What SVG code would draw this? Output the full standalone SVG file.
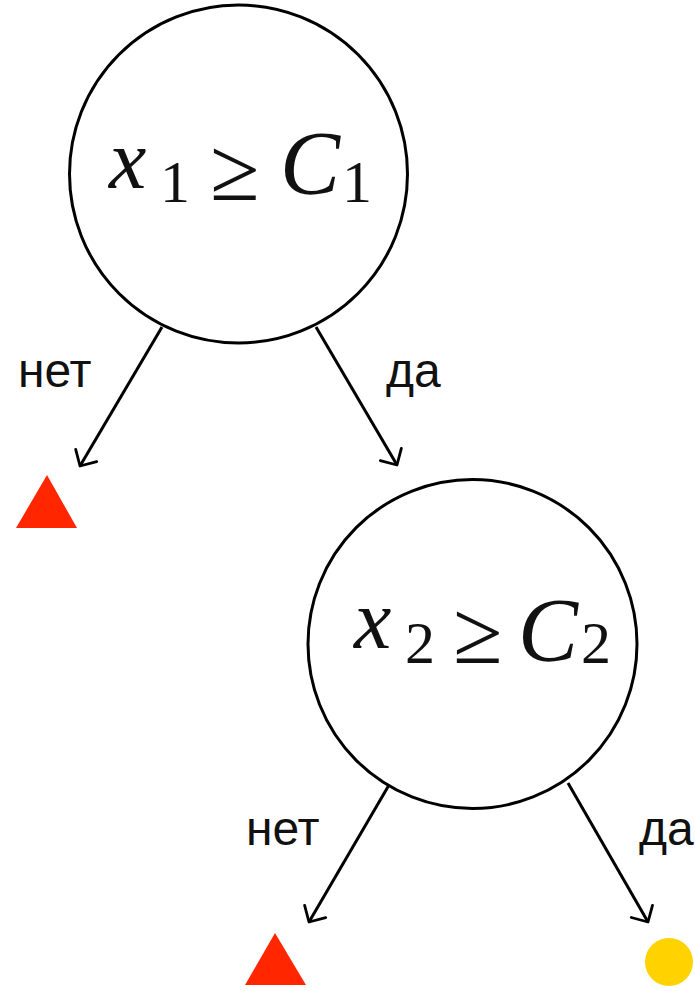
<svg xmlns="http://www.w3.org/2000/svg" width="695" height="991" viewBox="0 0 695 991">
<defs>
<style>
.node{fill:#fff;stroke:#000;stroke-width:3}
.math{font-family:"Liberation Serif","DejaVu Serif",serif;fill:#111}
.it{font-style:italic}
.lbl{font-family:"Liberation Sans",Arial,sans-serif;font-size:48px;fill:#111}
.edge{stroke:#000;stroke-width:3;fill:none;marker-end:url(#arr)}
</style>
<marker id="arr" markerUnits="userSpaceOnUse" orient="auto" markerWidth="30" markerHeight="30" refX="0" refY="0" viewBox="-16 -16 32 32" overflow="visible">
<path d="M-13,-13 L0,0 L-13,13" fill="none" stroke="#000" stroke-width="3" stroke-linecap="round" stroke-linejoin="round"/>
</marker>
</defs>
<rect width="695" height="991" fill="#fff"/>
<g id="connectors">
<line class="edge" x1="162" y1="327" x2="80" y2="466"/>
<line class="edge" x1="316" y1="327" x2="397" y2="465"/>
<line class="edge" x1="389" y1="785" x2="309" y2="922"/>
<line class="edge" x1="568" y1="783" x2="648" y2="922"/>
<text class="lbl" x="18" y="387">нет</text>
<text class="lbl" x="386" y="387">да</text>
<text class="lbl" x="246" y="845">нет</text>
<text class="lbl" x="639" y="845">да</text>
</g>
<g id="node1">
<circle class="node" cx="238.5" cy="174" r="169"/>
<text class="math it" x="109" y="188" font-size="84">x</text>
<text class="math" x="160" y="202" font-size="60">1</text>
<text class="math" x="210" y="200" font-size="90">≥</text>
<text class="math it" x="280" y="194" font-size="90">C</text>
<text class="math" x="342" y="202" font-size="60">1</text>
</g>
<g id="node2">
<circle class="node" cx="472.5" cy="644" r="164.5"/>
<text class="math it" x="354" y="648" font-size="84">x</text>
<text class="math" x="405" y="663" font-size="60">2</text>
<text class="math" x="453" y="663" font-size="90">≥</text>
<text class="math it" x="518" y="661" font-size="90">C</text>
<text class="math" x="581" y="663" font-size="60">2</text>
</g>
<g id="leaf1"><polygon points="47,475 16,528 77,528" fill="#ff2600"/></g>
<g id="leaf2"><polygon points="275,933 245,985 306,985" fill="#ff2600"/></g>
<g id="leaf3"><circle cx="669" cy="962" r="24" fill="#ffd200"/></g>
</svg>
